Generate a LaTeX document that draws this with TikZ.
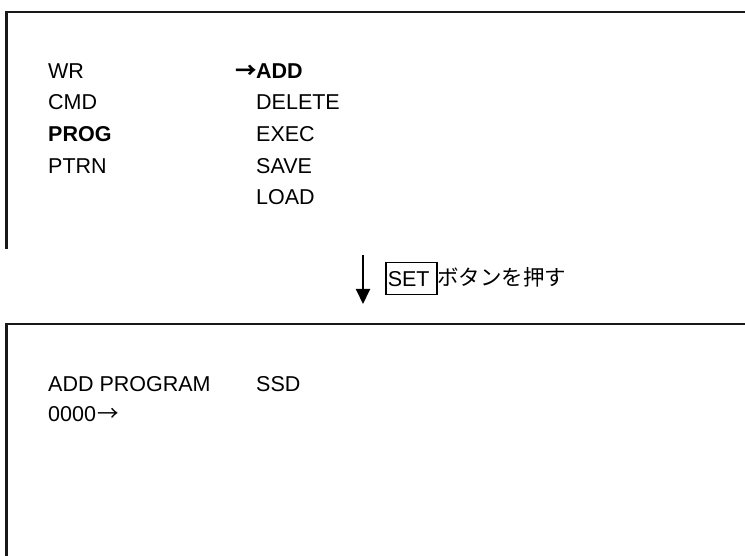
\documentclass[tikz,border=0pt]{standalone}
\usepackage{fontspec}
\setmainfont{Liberation Sans}
\newfontfamily\jpfont{Noto Sans CJK JP}
\usetikzlibrary{arrows.meta}
\begin{document}
\begin{tikzpicture}[x=1pt,y=-1pt,
  lbl/.style={anchor=base west,inner sep=0pt,font=\fontsize{21.5}{24}\selectfont},
  lblb/.style={lbl,font=\fontsize{21.5}{24}\selectfont\bfseries},
  frame/.style={line width=2.2pt,draw=black!90},
  flow/.style={line width=2pt,-{Triangle[length=15pt,width=14pt]}},
  keybox/.style={draw,line width=1.5pt,anchor=north west,minimum width=51pt,minimum height=32pt,
    text width=47pt,align=left,inner xsep=2pt,inner ysep=0pt,font=\fontsize{21.5}{24}\selectfont}]
\useasboundingbox (0,0) rectangle (745,556);
% screen 1 frame
\coordinate (f1r) at (745,12);
\coordinate (f1c) at (6.5,12);
\coordinate (f1b) at (6.5,249);
\draw[frame] (f1r) -- (f1c) -- (f1b);
% screen 1 texts
\node[lbl]  (wr)   at (48,78.3)  {WR};
\node[lbl]  (cmd)  at (48,110)   {CMD};
\node[lblb] (prog) at (48,141.7) {PROG};
\node[lbl]  (ptrn) at (48,173.3) {PTRN};
\node[lbl,anchor=base east] (arr) at (257,78.3) {\jpfont\bfseries →};
\node[lblb] (add)  at (256,78.3)  {ADD};
\node[lbl]  (del)  at (256,110)   {DELETE};
\node[lbl]  (exec) at (256,141.7) {EXEC};
\node[lbl]  (save) at (256,173.3) {SAVE};
\node[lbl]  (load) at (256,205)   {LOAD};
% transition
\coordinate (a1) at (363,255);
\coordinate (a2) at (363,304);
\draw[flow] (a1) -- (a2);
\node[keybox] (set) at (385,262) {SET};
\node[lbl] (push) at (437,286) {\jpfont ボタンを押す};
% screen 2 frame
\coordinate (f2r) at (745,324);
\coordinate (f2c) at (6.5,324);
\coordinate (f2b) at (6.5,556);
\draw[frame] (f2r) -- (f2c) -- (f2b);
% screen 2 texts
\node[lbl] (addp) at (48,391.5) {ADD PROGRAM};
\node[lbl] (ssd)  at (256,391.5) {SSD};
\node[lbl] (zero) at (48,421) {0000\kern1pt{\jpfont →}};
\end{tikzpicture}
\end{document}
